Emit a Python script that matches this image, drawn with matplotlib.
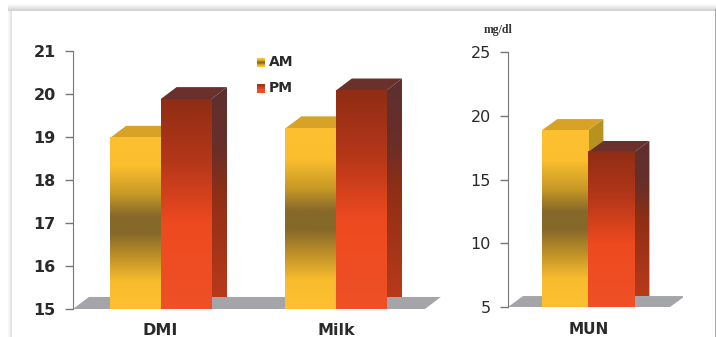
import numpy as np
import matplotlib
matplotlib.use("Agg")
import matplotlib.pyplot as plt
from matplotlib.colors import LinearSegmentedColormap
from matplotlib.patches import Polygon, Rectangle

W, H = 716, 337

left_categories = ["DMI", "Milk"]
left_am = [18.98, 19.2]
left_pm = [19.88, 20.08]
left_ticks = [15, 16, 17, 18, 19, 20, 21]

right_categories = ["MUN"]
right_am = [18.88]
right_pm = [17.16]
right_ticks = [5, 10, 15, 20, 25]

am_front = LinearSegmentedColormap.from_list(
    "am", [(0, "#fdc030"), (0.17, "#fbbe2e"), (0.33, "#c89a26"), (0.46, "#86682a"),
           (0.56, "#86682a"), (0.7, "#c09226"), (0.84, "#f8bc2e"), (1, "#fdc030")], N=1024)
pm_front = LinearSegmentedColormap.from_list(
    "pm", [(0, "#8f2d14"), (0.3, "#b5371a"), (0.6, "#ef4a20"), (1, "#ee5026")], N=1024)
pm_side = LinearSegmentedColormap.from_list(
    "pms", [(0, "#5c3030"), (0.3, "#6a2e28"), (0.5, "#8e2e16"), (1, "#b83a1a")], N=1024)
AM_SIDE, AM_TOP = "#b8921f", "#d6a326"
PM_TOP = "#6a302c"
GRAD = np.linspace(0, 1, 1024).reshape(-1, 1)


def px_axes(fig, x0, y0, x1, y1):
    # pixel box measured from the top left corner
    return fig.add_axes([x0 / W, 1 - y1 / H, (x1 - x0) / W, (y1 - y0) / H])


def bar3d(ax, x0, x1, top, base, dx, dy, front, side, roof, z):
    side_poly = [(x1, base), (x1 + dx, base + dy), (x1 + dx, top + dy), (x1, top)]
    if isinstance(side, str):
        ax.add_patch(Polygon(side_poly, fc=side, ec="none", zorder=z))
    else:
        im = ax.imshow(GRAD, cmap=side, extent=(x1, x1 + dx, base + dy, top + dy),
                       aspect="auto", origin="upper", zorder=z, interpolation="antialiased",
                       interpolation_stage="rgba")
        im.set_clip_path(Polygon(side_poly, transform=ax.transData))
    ax.add_patch(Polygon([(x0, top), (x0 + dx, top + dy), (x1 + dx, top + dy), (x1, top)],
                         fc=roof, ec="none", zorder=z))
    ax.imshow(GRAD, cmap=front, extent=(x0, x1, base, top), aspect="auto",
              origin="upper", zorder=z, interpolation="antialiased",
              interpolation_stage="rgba")


def panel(ax, categories, am, pm, ticks, width, dx, dy, xlim, floor_right, weight, label_fs, label_pad):
    lo, hi = ticks[0], ticks[-1]
    fl = xlim[0]
    ax.add_patch(Polygon([(fl, lo), (fl + dx, lo + dy), (floor_right + dx, lo + dy), (floor_right, lo)],
                         fc="#a3a5a8", ec="none", zorder=1))
    for i in range(len(categories)):
        # the right block hides the side of the left one
        bar3d(ax, i - width, i, am[i], lo, dx, dy, am_front, AM_SIDE, AM_TOP, 3)
        bar3d(ax, i, i + width, pm[i], lo, dx, dy, pm_front, pm_side, PM_TOP, 4)
    ax.set_xlim(*xlim)
    ax.set_ylim(lo, hi)
    ax.set_yticks(ticks)
    ax.set_yticklabels(ticks, fontsize=11.5, fontweight=weight, color="#2a2a2a")
    ax.set_xticks(range(len(categories)))
    ax.set_xticklabels(categories, fontsize=label_fs, fontweight="bold", color="#2a2a2a")
    ax.tick_params(axis="x", length=0, pad=label_pad)
    ax.tick_params(axis="y", length=5.5, width=1, color="#777777", pad=7)
    for s in ["top", "right", "bottom"]:
        ax.spines[s].set_visible(False)
    ax.spines["left"].set_color("#777777")
    ax.patch.set_alpha(0)


fig = plt.figure(figsize=(W / 100, H / 100), dpi=100, facecolor="white")

# soft shadow around the white sheet
bg = fig.add_axes([0, 0, 1, 1])
shade = LinearSegmentedColormap.from_list("shade", ["white", "#cdcdcd"])
bg.imshow(GRAD, cmap=shade, extent=(8, 716, 11, 4), aspect="auto", origin="upper", interpolation="bilinear")
bg.imshow(GRAD.T, cmap=shade, extent=(8, 12, 337, 11), aspect="auto", vmax=1.6, interpolation="bilinear")
bg.add_patch(Rectangle((714.5, 9), 1.5, 328, fc="#a8a8a8", ec="none"))
bg.set_xlim(0, W)
bg.set_ylim(H, 0)
bg.axis("off")

ax1 = px_axes(fig, 73, 51, 441, 309)
panel(ax1, left_categories, left_am, left_pm, left_ticks, 0.288, 0.091, 0.28,
      (-0.5, 1.6), 1.508, "bold", 11.5, 10)

ax2 = px_axes(fig, 508, 52, 683, 307)
panel(ax2, right_categories, right_am, right_pm, right_ticks, 0.263, 0.086, 0.86,
      (-0.459, 0.541), 0.467, "normal", 11, 10.5)

fig.text(498 / W, 1 - 30 / H, "mg/dl", family="Liberation Serif", fontweight="bold",
         fontsize=8.5, color="#333333", ha="center", va="center")

# legend swatches and labels
for label, cmap, y in [("AM", am_front, 62), ("PM", pm_front, 88)]:
    sw = px_axes(fig, 257, y - 4, 265, y + 5)
    sw.imshow(GRAD, cmap=cmap, aspect="auto")
    sw.axis("off")
    fig.text(269 / W, 1 - y / H, label, fontsize=10, fontweight="bold",
             color="#2a2a2a", va="center")

fig.savefig("out.png", dpi=100, facecolor=fig.get_facecolor())
